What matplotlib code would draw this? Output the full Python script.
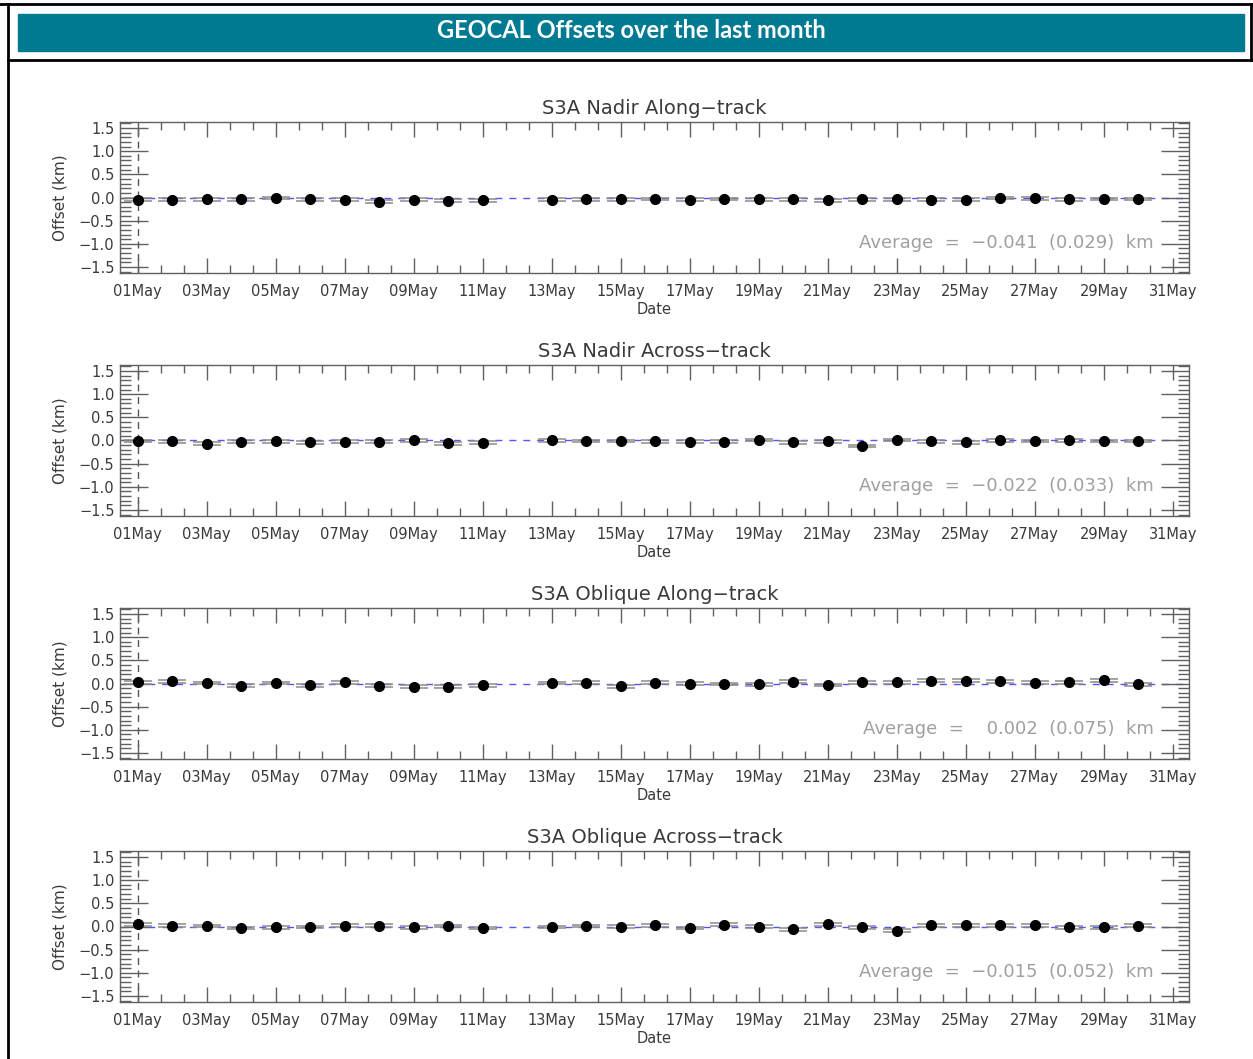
import matplotlib.pyplot as plt
import numpy as np
from matplotlib.lines import Line2D
from matplotlib.patches import Rectangle

# Daily GEOCAL offsets (km); 12 May has no data
days = [1, 2, 3, 4, 5, 6, 7, 8, 9, 10, 11, 13, 14, 15, 16, 17, 18, 19, 20,
        21, 22, 23, 24, 25, 26, 27, 28, 29, 30]

nadir_along = [-0.05, -0.05, -0.04, -0.04, -0.01, -0.04, -0.05, -0.09, -0.05, -0.07,
               -0.06, -0.05, -0.04, -0.04, -0.03, -0.05, -0.03, -0.04, -0.04, -0.06,
               -0.04, -0.04, -0.05, -0.05, -0.01, -0.02, -0.04, -0.03, -0.03]
nadir_across = [-0.01, -0.02, -0.07, -0.03, -0.02, -0.04, -0.03, -0.03, 0.00, -0.06,
                -0.05, 0.00, -0.01, -0.01, -0.02, -0.03, -0.03, 0.01, -0.04, -0.02,
                -0.12, 0.01, -0.02, -0.04, 0.00, -0.01, 0.00, -0.01, -0.01]
oblique_along = [0.03, 0.05, 0.01, -0.05, 0.01, -0.04, 0.03, -0.05, -0.07, -0.07,
                 -0.04, 0.01, 0.02, -0.06, 0.02, 0.00, -0.01, -0.02, 0.04, -0.03,
                 0.03, 0.03, 0.06, 0.06, 0.05, 0.02, 0.03, 0.07, -0.02]
oblique_across = [0.05, 0.02, 0.01, -0.03, -0.02, -0.01, 0.02, 0.02, -0.02, 0.01,
                  -0.03, -0.01, 0.01, 0.00, 0.03, -0.03, 0.04, 0.00, -0.06, 0.05,
                  -0.02, -0.09, 0.03, 0.03, 0.03, 0.03, -0.02, -0.02, 0.02]
point_err = 0.03

titles = ["S3A Nadir Along\u2212track", "S3A Nadir Across\u2212track",
          "S3A Oblique Along\u2212track", "S3A Oblique Across\u2212track"]
averages = ["Average  =  \u22120.041  (0.029)  km", "Average  =  \u22120.022  (0.033)  km",
            "Average  =    0.002  (0.075)  km", "Average  =  \u22120.015  (0.052)  km"]
series = [nadir_along, nadir_across, oblique_along, oblique_across]

W, H = 1253, 1059
plt.rcParams['font.family'] = ['DejaVu Sans']
fig = plt.figure(figsize=(W / 100, H / 100), dpi=100)

# page frame and banner
def hline(y, x0=0, x1=W, lw=2):
    fig.add_artist(Line2D([x0 / W, x1 / W], [1 - y / H, 1 - y / H], color='black', lw=lw))

def vline(x, y0=0, y1=H, lw=2):
    fig.add_artist(Line2D([x / W, x / W], [1 - y0 / H, 1 - y1 / H], color='black', lw=lw))

hline(4)
hline(60, x0=8)
vline(8, 4, H)
vline(1251, 4, 60)
fig.add_artist(Rectangle((18 / W, 1 - 51 / H), (1244 - 18) / W, 37 / H,
                         transform=fig.transFigure, color='#007a91'))
fig.text(631 / W, 1 - 31 / H, "GEOCAL Offsets over the last month", color='white',
         fontsize=17, fontweight='bold', family='Lato', ha='center', va='center')

text_col = '#3a3a3a'
axis_col = '#606060'
major_days = list(range(1, 32, 2))
minor_days = [1 + k * 2 / 3 for k in range(46) if k % 3 != 0]
ytick_vals = [-1.5, -1.0, -0.5, 0.0, 0.5, 1.0, 1.5]

for i, (vals, title, avg) in enumerate(zip(series, titles, averages)):
    top = 122 + 243 * i
    bot = 273 + 243 * i
    ax = fig.add_axes([120 / W, 1 - bot / H, (1189 - 120) / W, (bot - top) / H])
    ax.set_xlim(0.49, 31.47)
    ax.set_ylim(-1.63, 1.63)

    ax.axhline(0, color='#5555ff', lw=1, dashes=(5, 5), zorder=1)
    ax.axvline(1, color='#555555', lw=1, dashes=(5, 4), zorder=1)
    ax.errorbar(days, vals, yerr=point_err, fmt='o', color='black', ms=7,
                ecolor='#8a8a8a', elinewidth=1, capsize=10, capthick=1.1, zorder=3)

    ax.set_xticks(major_days)
    ax.set_xticklabels(["%02dMay" % d for d in major_days])
    ax.set_xticks(minor_days, minor=True)
    ax.set_yticks(ytick_vals)
    ax.set_yticklabels([("%.1f" % v).replace('-', '\u2212') for v in ytick_vals])
    ax.set_yticks(np.round(np.arange(-1.6, 1.61, 0.1), 1), minor=True)
    ax.tick_params(axis='x', which='major', direction='in', length=11, width=1,
                   top=True, color=axis_col, labelsize=10.5, labelcolor=text_col, pad=8)
    ax.tick_params(axis='x', which='minor', direction='in', length=6, width=1,
                   top=True, color=axis_col)
    ax.tick_params(axis='y', which='major', direction='in', length=20, width=1,
                   right=True, color=axis_col, labelsize=10.5, labelcolor=text_col, pad=4)
    ax.tick_params(axis='y', which='minor', direction='in', length=8, width=1,
                   right=True, color=axis_col)
    for s in ax.spines.values():
        s.set_color(axis_col)
        s.set_linewidth(1)

    ax.set_title(title, fontsize=14, color=text_col, pad=6)
    ax.set_xlabel("Date", fontsize=10.5, color=text_col, labelpad=2)
    ax.set_ylabel("Offset (km)", fontsize=11, color=text_col, labelpad=8)
    ax.text(0.967, 0.2, avg, transform=ax.transAxes, ha='right', va='center',
            fontsize=13, color='#a0a0a0')

fig.savefig("out.png", dpi=100)
